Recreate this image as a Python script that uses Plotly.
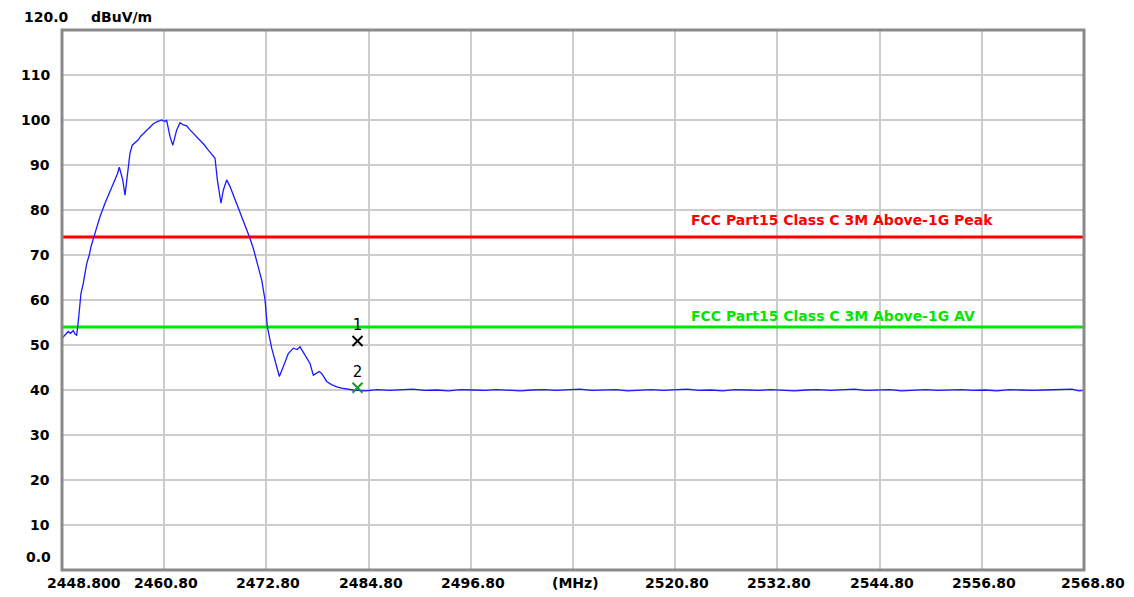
import plotly.graph_objects as go

# ---- data ----
freq_rise = [2448.8, 2449.2, 2449.54, 2449.8, 2450.13, 2450.35, 2450.53, 2450.71, 2450.85, 2451.03,
             2451.30, 2451.70, 2452.0, 2452.21, 2452.67, 2453.0, 2453.26, 2453.85, 2454.44, 2454.7,
             2455.02, 2455.30, 2455.53, 2455.93, 2456.20, 2456.51, 2456.78, 2457.05, 2457.40, 2457.76,
             2458.05, 2458.35, 2458.75, 2459.13, 2459.50, 2459.92, 2460.2, 2460.51, 2460.8, 2461.09]
lvl_rise = [51.5, 52.2, 53.0, 52.6, 53.2, 52.4, 52.2, 55.2, 58.5, 61.5,
            63.7, 68.1, 70.0, 71.9, 74.8, 76.8, 78.5, 81.5, 84.1, 85.2,
            86.7, 88.0, 89.5, 86.7, 83.3, 88.5, 92.6, 94.4, 94.9, 95.6,
            96.4, 97.0, 97.8, 98.5, 99.1, 99.6, 99.8, 100.0, 99.7, 99.9]

freq_top = [2461.48, 2461.81, 2462.27, 2462.66, 2463.05, 2463.44, 2463.83, 2464.22, 2464.60, 2465.00,
            2465.50, 2465.98, 2466.40, 2466.77, 2467.04, 2467.27, 2467.47, 2467.74, 2468.14, 2468.53,
            2468.80, 2469.11, 2469.40, 2469.70, 2470.00, 2470.29, 2470.79, 2471.26, 2471.66, 2471.95,
            2472.25, 2472.64, 2472.91]
lvl_top = [96.3, 94.4, 97.8, 99.4, 98.9, 98.7, 97.8, 97.0, 96.4, 95.6,
           94.5, 93.3, 92.4, 91.5, 86.7, 84.4, 81.5, 84.4, 86.7, 85.2,
           83.9, 82.2, 80.8, 79.3, 77.8, 76.7, 74.1, 71.5, 68.5, 66.8,
           64.4, 60.0, 54.1]

freq_fall = [2473.42, 2473.81, 2474.05, 2474.32, 2474.79, 2475.37, 2475.96, 2476.40, 2476.75, 2477.33,
             2477.92, 2478.31, 2478.71, 2479.00, 2479.29, 2479.88, 2480.45, 2481.06, 2481.65, 2482.23]
lvl_fall = [49.3, 46.7, 44.5, 43.0, 45.2, 48.1, 49.3, 49.0, 49.6, 47.8,
            45.9, 43.3, 43.7, 44.1, 43.7, 41.9, 41.2, 40.7, 40.4, 40.2]

freq_flat = [2483.0, 2484.4, 2485.8, 2487.2, 2488.6, 2490.0, 2491.4, 2492.8, 2494.2, 2495.6,
             2497.0, 2498.4, 2499.8, 2501.2, 2502.6, 2504.0, 2505.4, 2506.8, 2508.2, 2509.6,
             2511.0, 2512.4, 2513.8, 2515.2, 2516.6, 2518.0, 2519.4, 2520.8, 2522.2, 2523.6,
             2525.0, 2526.4, 2527.8, 2529.2, 2530.6, 2532.0, 2533.4, 2534.8, 2536.2, 2537.6,
             2539.0, 2540.4, 2541.8, 2543.2, 2544.6, 2546.0, 2547.4, 2548.8, 2550.2, 2551.6,
             2553.0, 2554.4, 2555.8, 2557.2, 2558.6, 2560.0, 2561.4, 2562.8, 2564.2, 2565.6,
             2566.6, 2567.4, 2568.2, 2568.8]
lvl_flat = [40.0, 39.8, 40.1, 39.9, 40.0, 40.2, 39.9, 40.0, 39.8, 40.1,
            40.0, 39.9, 40.1, 40.0, 39.8, 40.0, 40.1, 39.9, 40.0, 40.2,
            39.9, 40.0, 40.1, 39.8, 40.0, 40.1, 39.9, 40.0, 40.2, 39.9,
            40.0, 39.8, 40.1, 40.0, 39.9, 40.1, 40.0, 39.8, 40.0, 40.1,
            39.9, 40.0, 40.2, 39.9, 40.0, 40.1, 39.8, 40.0, 40.1, 39.9,
            40.0, 40.1, 39.9, 40.0, 39.8, 40.1, 40.0, 39.9, 40.0, 40.1,
            40.3, 40.2, 39.8, 39.9]

limit_names = ["FCC Part15 Class C 3M Above-1G Peak", "FCC Part15 Class C 3M Above-1G AV"]
limit_levels = [74.0, 54.0]
limit_colors = ["#ff0000", "#00e600"]

marker_ids = ["1", "2"]
marker_freq = [2483.5, 2483.5]
marker_lvl = [50.9, 40.5]
marker_colors = ["#000000", "#1a9a1a"]

x_ticks = [2448.8, 2460.8, 2472.8, 2484.8, 2496.8, 2508.8, 2520.8, 2532.8, 2544.8, 2556.8, 2568.8]
x_labels = ["2448.800", "2460.80", "2472.80", "2484.80", "2496.80", "(MHz)",
            "2520.80", "2532.80", "2544.80", "2556.80", "2568.80"]
y_ticks = [0, 10, 20, 30, 40, 50, 60, 70, 80, 90, 100, 110, 120]
y_labels = ["0.0", "10", "20", "30", "40", "50", "60", "70", "80", "90", "100", "110", "120.0"]
unit_label = "dBuV/m"

XMIN, XMAX = 2448.8, 2568.8
YMIN, YMAX = 0, 120

freq = freq_rise + freq_top + freq_fall + freq_flat
level = lvl_rise + lvl_top + lvl_fall + lvl_flat

FONT = "DejaVu Sans"
BOLD = dict(family=FONT, size=14, color="#000", weight="bold")

fig = go.Figure()

for name, lv, col in zip(limit_names, limit_levels, limit_colors):
    fig.add_trace(go.Scatter(x=[XMIN, XMAX], y=[lv, lv], mode="lines",
                             line=dict(color=col, width=3), hoverinfo="skip", name=name))

fig.add_trace(go.Scatter(x=freq, y=level, mode="lines",
                         line=dict(color="#1a1aff", width=1.3, shape="linear"), name="trace"))

for mid, mf, ml, mc in zip(marker_ids, marker_freq, marker_lvl, marker_colors):
    fig.add_trace(go.Scatter(x=[mf], y=[ml], mode="markers+text", text=[mid],
                             textposition="top center",
                             textfont=dict(family=FONT, size=15, color="#000000"),
                             marker=dict(symbol="x-thin", size=10, line=dict(color=mc, width=2), color=mc),
                             name="M" + mid))

annotations = []
for v, t in zip(y_ticks, y_labels):
    if t == "120.0":
        annotations.append(dict(x=0, xref="paper", y=v, yref="y", text=t, showarrow=False,
                                xanchor="left", yanchor="middle", xshift=-40, yshift=13, font=BOLD))
    elif t == "0.0":
        annotations.append(dict(x=0, xref="paper", y=v, yref="y", text=t, showarrow=False,
                                xanchor="right", yanchor="middle", xshift=-9, yshift=13, font=BOLD))
    else:
        annotations.append(dict(x=0, xref="paper", y=v, yref="y", text=t, showarrow=False,
                                xanchor="right", yanchor="middle", xshift=-10, font=BOLD))
annotations.append(dict(x=0, xref="paper", y=YMAX, yref="y", text=unit_label, showarrow=False,
                        xanchor="left", yanchor="middle", xshift=27, yshift=13, font=BOLD))
for i, (v, t) in enumerate(zip(x_ticks, x_labels)):
    if i == 0:
        anchor, xs = "left", -17
    elif i == len(x_ticks) - 1:
        anchor, xs = "center", 9
    else:
        anchor, xs = "center", 2
    annotations.append(dict(x=v, xref="x", y=0, yref="paper", text=t, showarrow=False,
                            xanchor=anchor, yanchor="middle", xshift=xs, yshift=-13, font=BOLD))
for name, lv, col, ys in zip(limit_names, limit_levels, limit_colors, [17, 11]):
    annotations.append(dict(x=0.6135, xref="paper", y=lv, yref="y", text=name, showarrow=False,
                            xanchor="left", yanchor="middle", yshift=ys,
                            font=dict(family=FONT, size=14, color=col, weight="bold")))

shapes = [
    dict(type="rect", xref="paper", yref="paper", x0=0, x1=1, y0=0, y1=1,
         line=dict(color="#8a8a8a", width=3), layer="above"),
]

# page body has an 8px margin: size and left/top margins compensate so the plot box
# lands where it is in the reference (62..1084 x 30..570)
fig.update_layout(
    width=1126, height=589,
    margin=dict(l=54, r=50, t=22, b=27),
    paper_bgcolor="white", plot_bgcolor="white",
    showlegend=False,
    xaxis=dict(range=[XMIN, XMAX], tickvals=x_ticks, showticklabels=False, ticks="",
               showgrid=True, gridcolor="#cccccc", gridwidth=1.5, zeroline=False, showline=False),
    yaxis=dict(range=[YMIN, YMAX], tickvals=y_ticks, showticklabels=False, ticks="",
               showgrid=True, gridcolor="#cccccc", gridwidth=1.5, zeroline=False, showline=False),
    annotations=annotations,
    shapes=shapes,
)

fig.write_html("out.html")
